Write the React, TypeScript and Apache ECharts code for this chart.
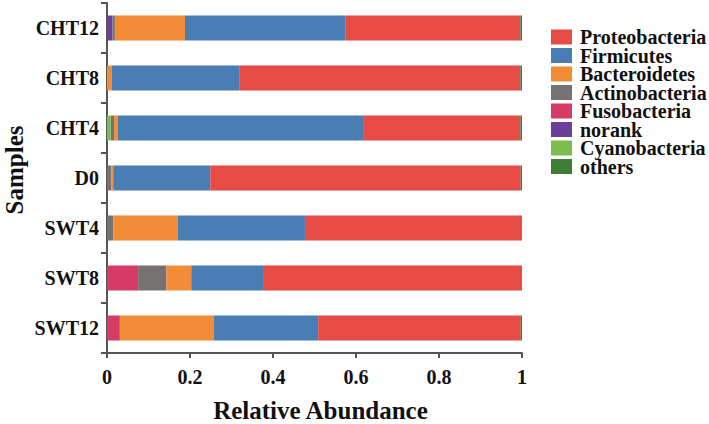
import React, { useEffect, useRef } from "react";
import * as echarts from "echarts";

const samples = ["CHT12", "CHT8", "CHT4", "D0", "SWT4", "SWT8", "SWT12"];

// stack order from left to right
const fusobacteria = [0, 0, 0, 0, 0, 0.075, 0.031];
const norank = [0.013, 0, 0, 0, 0, 0, 0];
const cyanobacteria = [0, 0, 0.009, 0, 0, 0, 0];
const actinobacteria = [0.006, 0, 0.008, 0.01, 0.015, 0.068, 0];
const bacteroidetes = [0.169, 0.011, 0.009, 0.005, 0.156, 0.06, 0.227];
const firmicutes = [0.386, 0.309, 0.591, 0.234, 0.306, 0.173, 0.251];
const proteobacteria = [0.422, 0.676, 0.379, 0.748, 0.523, 0.624, 0.488];
const others = [0.004, 0.004, 0.004, 0.003, 0, 0, 0.003];

const legendOrder = [
  "Proteobacteria",
  "Firmicutes",
  "Bacteroidetes",
  "Actinobacteria",
  "Fusobacteria",
  "norank",
  "Cyanobacteria",
  "others",
];

const xTicks = { min: 0, max: 1, interval: 0.2 };

const FONT = "Liberation Serif";

export default function App() {
  const ref = useRef<HTMLDivElement>(null);
  useEffect(() => {
    if (!ref.current) return;
    const chart = echarts.init(ref.current, undefined, { renderer: "svg" });
    const seriesDefs: [string, number[], string][] = [
      ["Fusobacteria", fusobacteria, "#D83A66"],
      ["norank", norank, "#6A3F98"],
      ["Cyanobacteria", cyanobacteria, "#7BBE4F"],
      ["Actinobacteria", actinobacteria, "#767272"],
      ["Bacteroidetes", bacteroidetes, "#F28C36"],
      ["Firmicutes", firmicutes, "#4A7DB3"],
      ["Proteobacteria", proteobacteria, "#E64B45"],
      ["others", others, "#3F7D34"],
    ];
    chart.setOption({
      animation: false,
      backgroundColor: "#ffffff",
      textStyle: { fontFamily: FONT },
      grid: {
        left: 107,
        right: 187,
        top: 3,
        bottom: 71,
        containLabel: false,
        outerBoundsMode: "none",
      },
      graphic: [
        {
          type: "text",
          x: 14,
          y: 170,
          rotation: Math.PI / 2,
          style: {
            text: "Samples",
            fontFamily: FONT,
            fontWeight: "bold",
            fontSize: 25,
            fill: "#111",
            align: "center",
            verticalAlign: "middle",
          },
        },
      ],
      legend: {
        data: legendOrder,
        orient: "vertical",
        left: 551,
        top: 27,
        padding: 0,
        itemWidth: 21,
        itemHeight: 15,
        itemGap: -1.5,
        icon: "rect",
        textStyle: {
          fontFamily: FONT,
          fontWeight: "bold",
          fontSize: 20,
          color: "#111",
          lineHeight: 18,
          padding: [0, 0, 0, 3],
        },
      },
      xAxis: {
        type: "value",
        min: xTicks.min,
        max: xTicks.max,
        interval: xTicks.interval,
        splitLine: { show: false },
        axisLine: { show: true, lineStyle: { color: "#555", width: 2 } },
        axisTick: { show: true, length: 5, lineStyle: { color: "#555", width: 2 } },
        axisLabel: {
          margin: 14,
          fontFamily: FONT,
          fontWeight: "bold",
          fontSize: 20,
          color: "#111",
        },
        name: "Relative Abundance",
        nameLocation: "middle",
        nameGap: 45,
        nameTextStyle: {
          fontFamily: FONT,
          fontWeight: "bold",
          fontSize: 25,
          color: "#111",
          padding: [0, 0, 0, 12],
        },
      },
      yAxis: {
        type: "category",
        data: samples,
        inverse: true,
        axisLine: { show: true, lineStyle: { color: "#555", width: 2 } },
        axisTick: { show: true, length: 6, lineStyle: { color: "#555", width: 2 } },
        axisLabel: {
          margin: 8,
          fontFamily: FONT,
          fontWeight: "bold",
          fontSize: 20,
          color: "#111",
        },
      },
      series: seriesDefs.map(([name, data, color]) => ({
        name,
        type: "bar",
        stack: "total",
        barWidth: "50%",
        data,
        itemStyle: { color },
        emphasis: { disabled: true },
      })),
    });
    return () => chart.dispose();
  }, []);
  return (
    <div
      ref={ref}
      style={{ position: "fixed", left: 0, top: 0, width: 709, height: 424 }}
    />
  );
}
